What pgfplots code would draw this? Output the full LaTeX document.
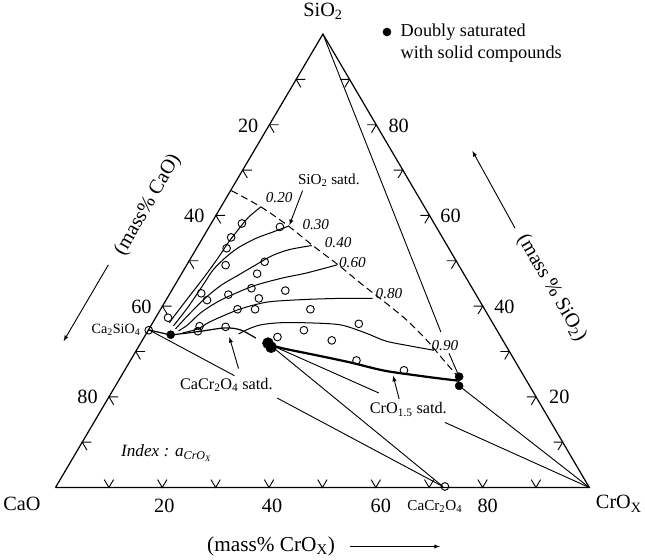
\documentclass[border=0pt]{standalone}
\usepackage{pgfplots}
\pgfplotsset{compat=1.18}
\usepackage{fontspec}
\setmainfont{Liberation Serif}
\newcommand{\fs}[1]{\fontsize{#1}{#1}\selectfont}
\begin{document}
\begin{tikzpicture}
\begin{axis}[
  scale only axis, width=645bp, height=560bp,
  xmin=0, xmax=645, ymin=0, ymax=560, y dir=reverse,
  hide axis, clip=false, unbounded coords=jump,
]
% triangle
\addplot[black, line width=1.2pt] coordinates {(60,487) (585,487) (323,41) (60,487)};
% bottom ticks
\addplot[black, line width=0.9pt] coordinates {
(107.9,479.2) (112.5,487) (117.1,479.2) (nan,nan)
(160.4,479.2) (165,487) (169.6,479.2) (nan,nan)
(212.9,479.2) (217.5,487) (222.1,479.2) (nan,nan)
(265.4,479.2) (270,487) (274.6,479.2) (nan,nan)
(317.9,479.2) (322.5,487) (327.1,479.2) (nan,nan)
(370.4,479.2) (375,487) (379.6,479.2) (nan,nan)
(422.9,479.2) (427.5,487) (432.1,479.2) (nan,nan)
(475.4,479.2) (480,487) (484.6,479.2) (nan,nan)
(527.9,479.2) (532.5,487) (537.1,479.2)};
% left ticks
\addplot[black, line width=0.9pt] coordinates {
(95.3,442.4) (86.3,442.4) (90.9,450.2) (nan,nan)
(121.6,397.8) (112.6,397.8) (117.2,405.6) (nan,nan)
(147.9,353.2) (138.9,353.2) (143.5,361.0) (nan,nan)
(174.2,308.6) (165.2,308.6) (169.8,316.4) (nan,nan)
(200.5,264.0) (191.5,264.0) (196.1,271.8) (nan,nan)
(226.8,219.4) (217.8,219.4) (222.4,227.2) (nan,nan)
(253.1,174.8) (244.1,174.8) (248.7,182.6) (nan,nan)
(279.4,130.2) (270.4,130.2) (275.0,138.0) (nan,nan)
(305.7,85.6) (296.7,85.6) (301.3,93.4)};
% right ticks
\addplot[black, line width=0.9pt] coordinates {
(549.8,442.4) (558.8,442.4) (554.2,450.2) (nan,nan)
(523.6,397.8) (532.6,397.8) (528.0,405.6) (nan,nan)
(497.4,353.2) (506.4,353.2) (501.8,361.0) (nan,nan)
(471.2,308.6) (480.2,308.6) (475.6,316.4) (nan,nan)
(445.0,264.0) (454.0,264.0) (449.4,271.8) (nan,nan)
(418.8,219.4) (427.8,219.4) (423.2,227.2) (nan,nan)
(392.6,174.8) (401.6,174.8) (397.0,182.6) (nan,nan)
(366.4,130.2) (375.4,130.2) (370.8,138.0) (nan,nan)
(340.2,85.6) (349.2,85.6) (344.6,93.4)};
% SiO2 saturation (dashed)
\addplot[black, line width=1pt, dash pattern=on 7pt off 4pt, smooth] coordinates {
(233,195) (262,211) (288,229) (313,249) (338,268) (360,286) (383,304) (405,322) (425,342) (442,362) (455,377)};
% iso-activity curves
\addplot[black, line width=1pt, smooth] coordinates {(172,325) (177,318) (190,301) (207,279) (220,261) (230,246) (240,233) (250,221) (262,211)};
\addplot[black, line width=1pt, smooth] coordinates {(176,328) (190,310) (205,288) (215,273) (227,261) (240,251) (257,242) (273,236) (289,230)};
\addplot[black, line width=1pt, smooth] coordinates {(178,331) (190,318) (207,301) (223,288) (240,278) (257,268) (273,259) (290,253) (312,249)};
\addplot[black, line width=1pt, smooth] coordinates {(181,333) (190,327) (203,315) (220,304) (237,296) (257,288) (283,281) (307,276) (337,268)};
\addplot[black, line width=1pt, smooth] coordinates {(185,335) (200,331) (210,325) (223,319) (240,312) (257,307) (273,304) (307,302) (340,301) (372,301)};
\addplot[black, line width=1pt, smooth] coordinates {(240,336) (250,331) (262,327) (280,325) (307,325) (340,327) (365,335) (385,343) (410,348) (432,352)};
% liquidus lines
\addplot[black, line width=1.2pt] coordinates {(152,332) (173,337)};
\addplot[black, line width=1.2pt, smooth] coordinates {(173,337) (190,335) (205,333) (227,330) (242,332) (257,340)};
\addplot[black, line width=2.2pt, smooth] coordinates {(270,346) (283,350) (317,357) (350,364) (383,372) (417,377) (440,380) (457,382)};
% tie lines
\addplot[black, line width=0.9pt] coordinates {(152,332) (236,377) (nan,nan) (278,399) (441,486)};
\addplot[black, line width=0.9pt] coordinates {(270,346) (441,486)};
\addplot[black, line width=0.9pt] coordinates {(270,346) (378,394) (nan,nan) (443,423) (585,487)};
\addplot[black, line width=0.9pt] coordinates {(457,387) (585,487)};
\addplot[black, line width=0.9pt] coordinates {(323,41) (439,334) (nan,nan) (447,355) (457,378)};
% arrows
\addplot[black, line width=0.9pt, -latex] coordinates {(303,195) (290,229)};
\addplot[black, line width=0.9pt, -latex] coordinates {(240,370) (231,339)};
\addplot[black, line width=0.9pt, -latex] coordinates {(398,400) (392,377)};
\addplot[black, line width=0.9pt, -latex] coordinates {(112,268) (68,343)};
\addplot[black, line width=0.9pt, -latex] coordinates {(512,232) (470,156)};
\addplot[black, line width=0.9pt, -latex] coordinates {(350,545) (438,545)};
% open circles (data)
\addplot[only marks, mark=o, mark size=3.8pt, mark options={line width=0.9pt, fill=white}] coordinates {
(280.7,230.7) (243.3,227.3) (232.7,241) (228.3,251.7) (227.3,268.3) (265.7,265) (258.3,276.7)
(203.3,296) (209,302.7) (230,297.3) (252.7,291) (286,293.3) (260,301) (239,311.7) (256.3,311.7)
(310.7,311.7) (170.7,320) (201.7,328.3) (200,333.3) (227.3,329) (304.3,332.3) (278.3,339)
(331.7,342.3) (358.3,326) (356,362) (402.7,371.7) (151.7,332.3) (443,486)};
% doubly saturated
\addplot[only marks, mark=*, mark size=4pt] coordinates {(173.3,336.7) (457,378) (457,387) (386,39)};
\addplot[only marks, mark=*, mark size=5.5pt] coordinates {(269,345) (272,349)};
% labels
\node[font=\fs{20}] at (axis cs:323,19) {SiO\textsubscript{2}};
\node[font=\fs{20}] at (axis cs:27,503) {CaO};
\node[font=\fs{20}] at (axis cs:614,503) {CrO\textsubscript{X}};
\node[font=\fs{21}] at (axis cs:272,545) {(mass\% CrO\textsubscript{X})};
\node[font=\fs{20}, rotate=60] at (axis cs:151,209) {(mass\% CaO)};
\node[font=\fs{20}, rotate=-60] at (axis cs:548,291) {(mass \% SiO\textsubscript{2})};
\node[font=\fs{20}] at (axis cs:167,505) {20};
\node[font=\fs{20}] at (axis cs:273,505) {40};
\node[font=\fs{20}] at (axis cs:380,505) {60};
\node[font=\fs{20}] at (axis cs:485,505) {80};
\node[font=\fs{20}, anchor=east] at (axis cs:263,131) {20};
\node[font=\fs{20}, anchor=east] at (axis cs:210,220) {40};
\node[font=\fs{20}, anchor=east] at (axis cs:158,309) {60};
\node[font=\fs{20}, anchor=east] at (axis cs:105,398) {80};
\node[font=\fs{20}, anchor=west] at (axis cs:384,131) {80};
\node[font=\fs{20}, anchor=west] at (axis cs:435,220) {60};
\node[font=\fs{20}, anchor=west] at (axis cs:488,309) {40};
\node[font=\fs{20}, anchor=west] at (axis cs:542,398) {20};
\node[font=\fs{18}, anchor=west] at (axis cs:396,39) {Doubly saturated};
\node[font=\fs{18}, anchor=west] at (axis cs:396,61) {with solid compounds};
\node[font=\fs{14}, anchor=east] at (axis cs:147,332) {Ca\textsubscript{2}SiO\textsubscript{4}};
\node[font=\fs{16}] at (axis cs:228,386) {CaCr\textsubscript{2}O\textsubscript{4} satd.};
\node[font=\fs{16}] at (axis cs:407,410) {CrO\textsubscript{1.5} satd.};
\node[font=\fs{15}, anchor=west] at (axis cs:295,185) {SiO\textsubscript{2} satd.};
\node[font=\fs{15}] at (axis cs:433,506) {CaCr\textsubscript{2}O\textsubscript{4}};
\node[font=\fs{15}\itshape] at (axis cs:280,202) {0.20};
\node[font=\fs{15}\itshape] at (axis cs:316,228) {0.30};
\node[font=\fs{15}\itshape] at (axis cs:338,246) {0.40};
\node[font=\fs{15}\itshape] at (axis cs:352,266) {0.60};
\node[font=\fs{15}\itshape] at (axis cs:388,296) {0.80};
\node[font=\fs{15}\itshape] at (axis cs:443,347) {0.90};
\node[font=\fs{17}\itshape, anchor=west] at (axis cs:121,453) {Index : a\textsubscript{CrO\textsubscript{X}}};
\end{axis}
\end{tikzpicture}
\end{document}
